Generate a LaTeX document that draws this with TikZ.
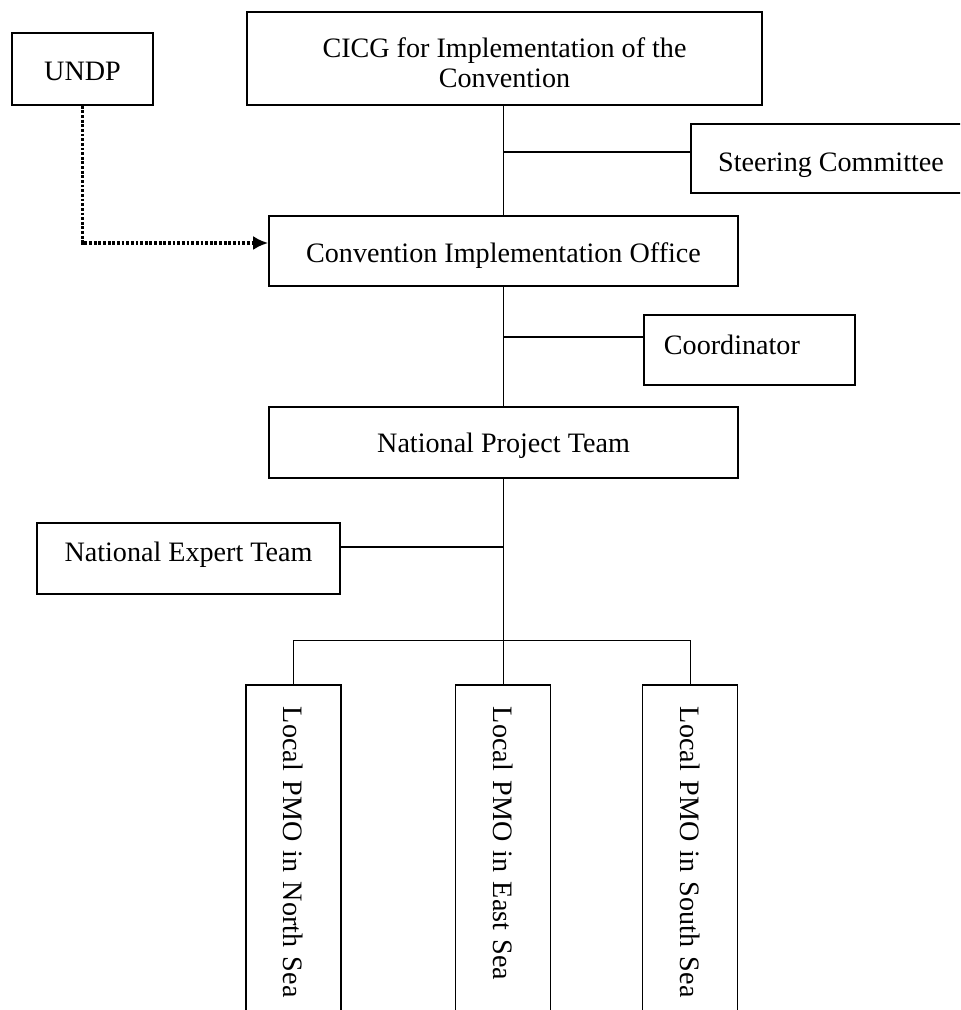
\documentclass[tikz,border=0pt]{standalone}
\usepackage{fontspec}
\setmainfont{Liberation Serif}
\usetikzlibrary{arrows.meta,positioning}
\newcommand{\lowertext}[2]{\raisebox{-#1}[\height][\depth]{#2}}

\begin{document}
\begin{tikzpicture}[
  x=0.025cm, y=-0.025cm,
  font=\fontsize{20}{24}\selectfont,
  box/.style={
    rectangle,
    draw=black,
    line width=1.1pt,
    fill=white,
    align=center,
    inner sep=0pt
  },
  sidebox/.style={box, minimum height=1.75cm},
  localbox/.style={
    box,
    rotate=-90,
    minimum width=8.875cm,
    minimum height=2.375cm,
    inner xsep=0.55cm,
    text width=7.775cm,
    align=left
  },
  wire/.style={line width=0.7pt},
  branch/.style={line width=1.1pt},
  dotarrow/.style={line width=2.2pt, dash pattern=on 2pt off 1.3pt, -{Latex[length=3.75mm, width=3.5mm]}}
]

  \useasboundingbox (0,0) rectangle (960,1010);
  \clip (0,0) rectangle (960,1010);

  \node[box, minimum width=3.525cm, minimum height=1.8cm] (undp) at (82.5,69) {\lowertext{2pt}{UNDP}};
  \node[box, minimum width=12.875cm, minimum height=2.325cm] (cicg) at (504.5,58.5)
    {\lowertext{5pt}{\begin{tabular}{@{}c@{}}CICG for Implementation of the\\[-3pt]Convention\end{tabular}}};
  \node[sidebox, minimum width=7cm, minimum height=1.725cm] (steer) at (831,158.5) {\lowertext{5pt}{Steering Committee}};
  \node[box, minimum width=11.725cm, minimum height=1.75cm] (cio) at (503.5,251) {\lowertext{3pt}{Convention Implementation Office}};
  \node[sidebox, minimum width=5.275cm, text width=4.275cm, align=left] (coord) at (749.5,350) {Coordinator\\[-16pt]\mbox{}};
  \node[box, minimum width=11.725cm, minimum height=1.775cm] (npt) at (503.5,442.5) {\lowertext{2pt}{National Project Team}};
  \node[sidebox, minimum width=7.575cm, minimum height=1.775cm] (expert) at (188.5,558.5) {National Expert Team\\[-14pt]\mbox{}};

  \node[localbox] (north) at (293.5,862.5) {Local PMO in North Sea};
  \node[localbox] (east)  at (503,862.5)   {Local PMO in East Sea};
  \node[localbox] (south) at (690,862.5)   {Local PMO in South Sea};

  \coordinate (steerjoin)  at (503,152);
  \coordinate (coordjoin)  at (503,337);
  \coordinate (expertjoin) at (503,547);
  \coordinate (busleft)    at (293.5,640);
  \coordinate (busmid)     at (503,640);
  \coordinate (busright)   at (690,640);

  \draw[wire]   (cicg.south -| steerjoin) -- (cio.north -| steerjoin);
  \draw[branch] (steerjoin) -- (steerjoin -| steer.west);
  \draw[wire]   (cio.south -| coordjoin) -- (npt.north -| coordjoin);
  \draw[branch] (coordjoin) -- (coordjoin -| coord.west);

  \draw[wire]   (npt.south -| busmid) -- (busmid);
  \draw[branch] (expertjoin -| expert.east) -- (expertjoin);

  \draw[wire] (busleft) -- (busright);
  \draw[wire] (busleft)  -- (north.west);
  \draw[wire] (busmid)   -- (east.west);
  \draw[wire] (busright) -- (south.west);

  \draw[dotarrow] (undp.south) |- ([yshift=0.2cm]cio.west);

\end{tikzpicture}
\end{document}
